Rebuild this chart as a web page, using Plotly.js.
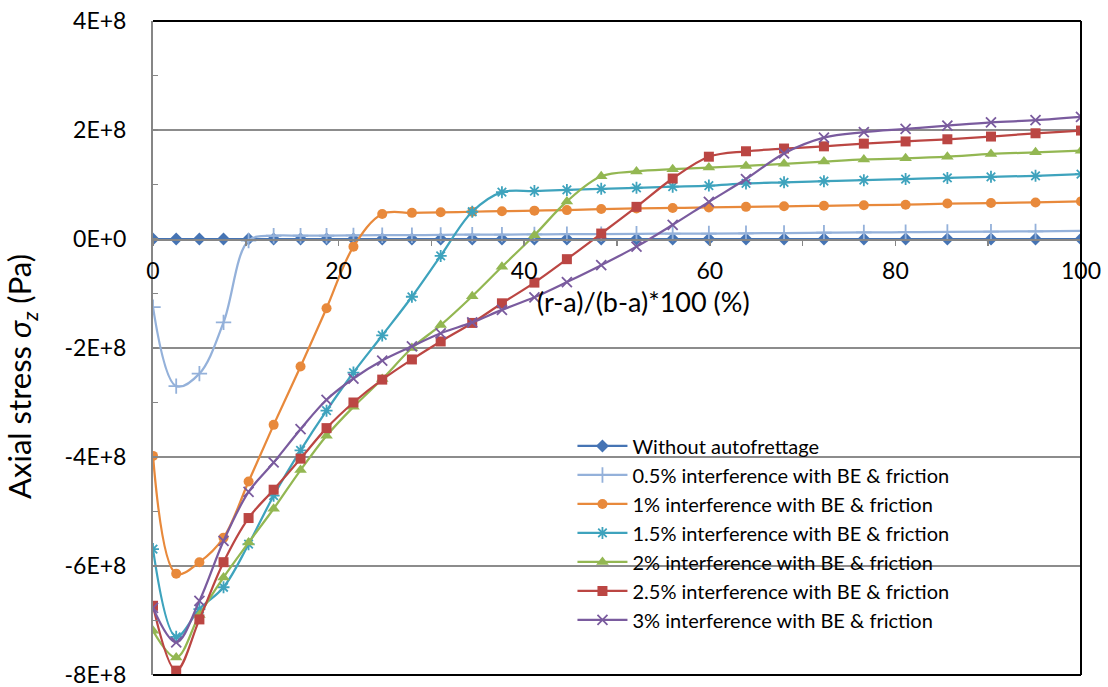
<!DOCTYPE html>
<html>
<head>
<meta charset="utf-8">
<script src="https://cdn.plot.ly/plotly-3.0.1.min.js"></script>
<style>
html,body{margin:0;padding:0;background:#fff;}
#chart{width:1108px;height:687px;}
</style>
</head>
<body>
<div id="chart"></div>
<script>
// Normalised radial position (r-a)/(b-a)*100 (%)
const xPos = [0, 2.5, 5.0, 7.6, 10.3, 13.0, 15.9, 18.7, 21.6, 24.7, 27.9, 31.0, 34.4, 37.6, 41.1, 44.6, 48.3, 52.1, 56.0, 59.9, 63.9, 68.0, 72.3, 76.6, 81.1, 85.6, 90.3, 95.1, 100];

// Axial stress (Pa)
const withoutAutofrettage = [0,0,0,0,0,0,0,0,0,0,0,0,0,0,0,0,0,0,0,0,0,0,0,0,0,0,0,0,0];
const interf05 = [-1.25e8, -2.70e8, -2.47e8, -1.53e8, -0.03e8, 0.06e8, 0.06e8, 0.06e8, 0.065e8, 0.07e8, 0.07e8, 0.075e8, 0.08e8, 0.08e8, 0.085e8, 0.09e8, 0.09e8, 0.095e8, 0.10e8, 0.10e8, 0.105e8, 0.11e8, 0.115e8, 0.12e8, 0.125e8, 0.13e8, 0.135e8, 0.14e8, 0.15e8];
const interf10 = [-3.98e8, -6.14e8, -5.93e8, -5.48e8, -4.45e8, -3.41e8, -2.34e8, -1.27e8, -0.14e8, 0.46e8, 0.48e8, 0.49e8, 0.50e8, 0.51e8, 0.52e8, 0.53e8, 0.55e8, 0.56e8, 0.57e8, 0.58e8, 0.59e8, 0.60e8, 0.61e8, 0.62e8, 0.63e8, 0.65e8, 0.66e8, 0.67e8, 0.69e8];
const interf15 = [-5.69e8, -7.30e8, -6.79e8, -6.39e8, -5.60e8, -4.71e8, -3.88e8, -3.15e8, -2.45e8, -1.77e8, -1.06e8, -0.31e8, 0.50e8, 0.86e8, 0.88e8, 0.90e8, 0.92e8, 0.94e8, 0.96e8, 0.98e8, 1.02e8, 1.04e8, 1.06e8, 1.08e8, 1.10e8, 1.12e8, 1.14e8, 1.16e8, 1.19e8];
const interf20 = [-7.19e8, -7.68e8, -6.90e8, -6.21e8, -5.57e8, -4.95e8, -4.24e8, -3.61e8, -3.08e8, -2.57e8, -2.00e8, -1.58e8, -1.05e8, -0.51e8, 0.07e8, 0.69e8, 1.15e8, 1.24e8, 1.28e8, 1.31e8, 1.34e8, 1.38e8, 1.42e8, 1.46e8, 1.48e8, 1.51e8, 1.56e8, 1.59e8, 1.62e8];
const interf25 = [-6.73e8, -7.92e8, -6.98e8, -5.93e8, -5.12e8, -4.60e8, -4.03e8, -3.47e8, -3.00e8, -2.58e8, -2.21e8, -1.88e8, -1.54e8, -1.18e8, -0.80e8, -0.37e8, 0.10e8, 0.59e8, 1.11e8, 1.51e8, 1.61e8, 1.66e8, 1.70e8, 1.75e8, 1.79e8, 1.83e8, 1.88e8, 1.94e8, 1.99e8];
const interf30 = [-6.77e8, -7.40e8, -6.64e8, -5.54e8, -4.64e8, -4.10e8, -3.49e8, -2.95e8, -2.56e8, -2.23e8, -1.97e8, -1.73e8, -1.53e8, -1.30e8, -1.07e8, -0.79e8, -0.48e8, -0.14e8, 0.26e8, 0.68e8, 1.10e8, 1.57e8, 1.86e8, 1.96e8, 2.02e8, 2.08e8, 2.14e8, 2.18e8, 2.24e8];

const seriesNames = [
  "Without autofrettage",
  "0.5% interference with BE & friction",
  "1% interference with BE & friction",
  "1.5% interference with BE & friction",
  "2% interference with BE & friction",
  "2.5% interference with BE & friction",
  "3% interference with BE & friction"
];

const yTickVals = [4e8, 2e8, 0, -2e8, -4e8, -6e8, -8e8];
const yTickText = ["4E+8", "2E+8", "0E+0", "-2E+8", "-4E+8", "-6E+8", "-8E+8"];
const xTickVals = [0, 20, 40, 60, 80, 100];
const xTickText = ["0", "20", "40", "60", "80", "100"];
const xTitle = "(r-a)/(b-a)*100 (%)";
const yTitle = "Axial stress <i>σ<sub>z</sub></i> (Pa)";

const seriesData = [withoutAutofrettage, interf05, interf10, interf15, interf20, interf25, interf30];
const styles = [
  {color: "#4674B4", symbol: "diamond", size: 10, open: false},
  {color: "#94B1DA", symbol: "cross-thin-open", size: 11, open: true},
  {color: "#E8893B", symbol: "circle", size: 10, open: false},
  {color: "#3EA3BD", symbol: "asterisk-open", size: 10, open: true},
  {color: "#93B752", symbol: "triangle-up", size: 11, open: false},
  {color: "#BB4643", symbol: "square", size: 10, open: false},
  {color: "#7A5B9E", symbol: "x-thin-open", size: 10, open: true}
];

const FONT = "Lato, 'Open Sans', sans-serif";

const traces = seriesData.map((ys, i) => ({
  type: "scatter",
  mode: "lines+markers",
  name: seriesNames[i],
  x: xPos,
  y: ys,
  line: {color: styles[i].color, width: 2.25, shape: "spline", smoothing: 1},
  marker: {
    symbol: styles[i].symbol,
    size: styles[i].size,
    color: styles[i].color,
    line: {color: styles[i].color, width: styles[i].open ? 1.8 : 0}
  }
}));

const layout = {
  width: 1108,
  height: 687,
  margin: {l: 153, r: 27, t: 21, b: 12},
  paper_bgcolor: "#ffffff",
  plot_bgcolor: "#ffffff",
  font: {family: FONT, size: 22, color: "#000000"},
  showlegend: true,
  legend: {
    x: 0.452, y: 0.38, xanchor: "left", yanchor: "top",
    bgcolor: "rgba(0,0,0,0)",
    font: {family: FONT, size: 20, color: "#000000"},
    itemwidth: 50,
    tracegroupgap: 0
  },
  xaxis: {
    range: [0, 100],
    anchor: "free",
    position: 8 / 12,
    tickvals: xTickVals,
    ticktext: xTickText,
    ticks: "outside",
    ticklen: 5,
    tickwidth: 1.5,
    tickcolor: "#868686",
    minor: {dtick: 10, ticks: "outside", ticklen: 5, tickwidth: 1.5, tickcolor: "#868686"},
    showline: true,
    linecolor: "#868686",
    linewidth: 1.5,
    showgrid: false,
    zeroline: false,
    ticklabelstandoff: 6,
    ticklabeloverflow: "allow",
    tickfont: {family: FONT, size: 23, color: "#000000"},
    automargin: false
  },
  yaxis: {
    range: [-8e8, 4e8],
    tickvals: yTickVals,
    ticktext: yTickText,
    ticks: "inside",
    ticklen: 5,
    tickwidth: 1.5,
    tickcolor: "#868686",
    minor: {dtick: 1e8, ticks: "inside", ticklen: 5, tickwidth: 1.5, tickcolor: "#868686", showgrid: false},
    showline: true,
    linecolor: "#868686",
    linewidth: 2,
    showgrid: true,
    gridcolor: "#8C8C8C",
    gridwidth: 1.3,
    zeroline: false,
    ticklabelstandoff: 20,
    ticklabeloverflow: "allow",
    tickfont: {family: FONT, size: 23, color: "#000000"},
    automargin: false
  },
  annotations: [
    {text: xTitle, xref: "paper", yref: "paper", x: 0.529, y: 0.571, xanchor: "center", yanchor: "middle",
     showarrow: false, font: {family: FONT, size: 27, color: "#000000"}},
    {text: yTitle, xref: "paper", yref: "paper", x: -0.141, y: 0.456, xanchor: "center", yanchor: "middle",
     textangle: -90, showarrow: false, font: {family: FONT, size: 31, color: "#000000"}}
  ],
  shapes: [
    {type: "line", xref: "paper", yref: "paper", x0: 0, x1: 1, y0: 1, y1: 1, line: {color: "#000000", width: 2}},
    {type: "line", xref: "paper", yref: "paper", x0: 1, x1: 1, y0: 0, y1: 1, line: {color: "#000000", width: 2}},
    {type: "line", xref: "paper", yref: "paper", x0: 0, x1: 1, y0: 0, y1: 0, line: {color: "#000000", width: 2}}
  ]
};

Plotly.newPlot("chart", traces, layout, {displayModeBar: false, staticPlot: true});
</script>
</body>
</html>
